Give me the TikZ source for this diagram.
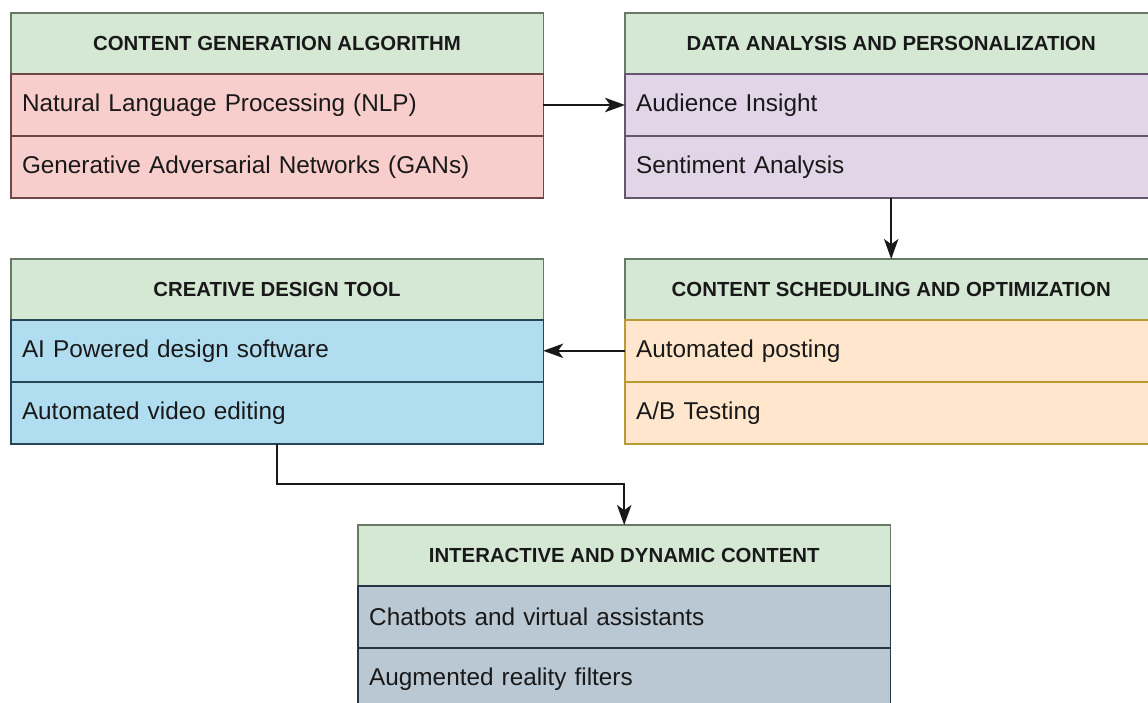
\documentclass[tikz,border=0pt]{standalone}
\usepackage{fontspec}
\setmainfont{Liberation Sans}
\usepackage{xcolor}
\usepackage{tikz}
\usetikzlibrary{arrows.meta, positioning}
\definecolor{headfill}{RGB}{213, 232, 212}
\definecolor{headline}{RGB}{105, 122, 100}
\definecolor{redfill}{RGB}{248, 206, 204}
\definecolor{redline}{RGB}{110, 72, 70}
\definecolor{purplefill}{RGB}{225, 213, 231}
\definecolor{purpleline}{RGB}{100, 86, 108}
\definecolor{bluefill}{RGB}{177, 221, 240}
\definecolor{blueline}{RGB}{38, 70, 85}
\definecolor{orangefill}{RGB}{255, 230, 204}
\definecolor{orangeline}{RGB}{185, 155, 50}
\definecolor{greyfill}{RGB}{186, 200, 211}
\definecolor{greyline}{RGB}{35, 55, 70}
\definecolor{txt}{RGB}{25, 25, 25}

\begin{document}
\begin{tikzpicture}[
    head/.style={rectangle, draw=headline, fill=headfill, line width=1pt,
                minimum width=13.31cm, minimum height=1.52cm, outer sep=0pt,
                text centered, text=txt, font=\fontsize{14.5}{17}\selectfont\bfseries},
    item/.style={rectangle, line width=1pt, minimum width=13.31cm,
                minimum height=1.55cm, outer sep=0pt, text width=12.75cm,
                inner xsep=0.28cm, align=left, text=txt,
                font=\fontsize{17.3}{20}\selectfont},
    redrow/.style={item, fill=redfill, draw=redline},
    purplerow/.style={item, fill=purplefill, draw=purpleline},
    bluerow/.style={item, fill=bluefill, draw=blueline},
    orangerow/.style={item, fill=orangefill, draw=orangeline},
    greyrow/.style={item, fill=greyfill, draw=greyline},
    arr/.style={-{Stealth[length=0.5cm, width=0.36cm, inset=0.13cm]},
                line width=1.3pt, color=txt}
]
\useasboundingbox (0,0) rectangle (28.7,-17.55);
\clip (0,0) rectangle (28.7,-17.55);

\node[head, anchor=north west] (cga) at (0.27,-0.33)   {CONTENT GENERATION ALGORITHM};
\node[redrow, below=0pt of cga] (nlp) {Natural Language Processing (NLP)};
\node[redrow, below=0pt of nlp] (gan) {Generative Adversarial Networks (GANs)};

\node[head, anchor=north west] (dap) at (15.625,-0.33) {DATA ANALYSIS AND PERSONALIZATION};
\node[purplerow, below=0pt of dap] (ain) {Audience Insight};
\node[purplerow, below=0pt of ain] (san) {Sentiment Analysis};

\node[head, anchor=north west] (cdt) at (0.27,-6.475)  {CREATIVE DESIGN TOOL};
\node[bluerow, below=0pt of cdt] (aid) {AI Powered design software};
\node[bluerow, below=0pt of aid] (ave) {Automated video editing};

\node[head, anchor=north west] (cso) at (15.625,-6.475) {CONTENT SCHEDULING AND OPTIMIZATION};
\node[orangerow, below=0pt of cso] (apo) {Automated posting};
\node[orangerow, below=0pt of apo] (abt) {A/B Testing};

\node[head, anchor=north west] (idc) at (8.95,-13.125) {INTERACTIVE AND DYNAMIC CONTENT};
\node[greyrow, below=0pt of idc] (cva) {Chatbots and virtual assistants};
\node[greyrow, below=0pt of cva] (arf) {Augmented reality filters};

\draw[arr] (nlp) -- (ain);
\draw[arr] (san) -- (cso);
\draw[arr] (apo) -- (aid);
\draw[arr] (ave.south) -- ++(0,-1) -| (idc.north);

\end{tikzpicture}
\end{document}
